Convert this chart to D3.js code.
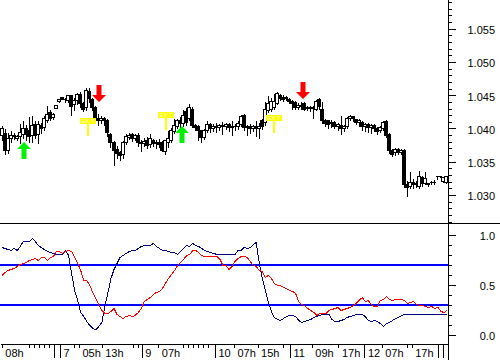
<!DOCTYPE html>
<html>
<head>
<meta charset="utf-8">
<script src="https://cdn.jsdelivr.net/npm/d3@7"></script>
<style>
  body { margin: 0; background: #fff; }
  svg { display: block; }
</style>
</head>
<body>
<svg id="chart" width="500" height="360"></svg>
<script>
// hourly OHLC bars
const opens = [
  1.0390,1.0393,1.0367,1.0385,1.0390,1.0385,1.0388,1.0392,1.0400,1.0398,
  1.0390,1.0406,1.0392,1.0405,1.0402,1.0413,1.0425,1.0417,1.0431,1.0442,
  1.0447,1.0444,1.0443,1.0451,1.0437,1.0443,1.0452,1.0438,1.0432,1.0457,
  1.0444,1.0432,1.0416,1.0412,1.0416,1.0412,1.0392,1.0380,1.0369,1.0364,
  1.0361,1.0380,1.0387,1.0391,1.0386,1.0390,1.0380,1.0378,1.0383,1.0376,
  1.0382,1.0378,1.0380,1.0380,1.0366,1.0380,1.0382,1.0396,1.0404,1.0412,
  1.0408,1.0427,1.0415,1.0430,1.0405,1.0403,1.0397,1.0387,1.0397,1.0406,
  1.0401,1.0404,1.0402,1.0405,1.0403,1.0406,1.0402,1.0404,1.0403,1.0407,
  1.0420,1.0402,1.0404,1.0401,1.0403,1.0400,1.0412,1.0410,1.0428,1.0430,
  1.0433,1.0439,1.0451,1.0447,1.0446,1.0445,1.0442,1.0440,1.0433,1.0436,
  1.0438,1.0431,1.0433,1.0431,1.0430,1.0444,1.0430,1.0412,1.0412,1.0408,
  1.0409,1.0404,1.0405,1.0400,1.0403,1.0415,1.0418,1.0414,1.0410,1.0410,
  1.0403,1.0406,1.0402,1.0405,1.0400,1.0398,1.0401,1.0411,1.0392,1.0368,
  1.0364,1.0369,1.0365,1.0368,1.0316,1.0313,1.0320,1.0316,1.0314,1.0327,
  1.0318,1.0318,1.0319,1.0320,1.0329,1.0328,1.0321,1.0320
];
const highs = [
  1.0405,1.0400,1.0395,1.0398,1.0395,1.0392,1.0408,1.0412,1.0407,1.0418,
  1.0420,1.0412,1.0413,1.0410,1.0420,1.0436,1.0430,1.0424,1.0437,1.0446,
  1.0448,1.0448,1.0452,1.0452,1.0448,1.0455,1.0457,1.0442,1.0462,1.0462,
  1.0448,1.0435,1.0423,1.0420,1.0418,1.0415,1.0395,1.0383,1.0375,1.0368,
  1.0382,1.0393,1.0395,1.0394,1.0393,1.0395,1.0384,1.0387,1.0388,1.0393,
  1.0386,1.0384,1.0385,1.0383,1.0384,1.0397,1.0402,1.0416,1.0416,1.0418,
  1.0430,1.0432,1.0438,1.0434,1.0408,1.0406,1.0399,1.0400,1.0412,1.0409,
  1.0408,1.0410,1.0408,1.0411,1.0409,1.0410,1.0413,1.0408,1.0412,1.0422,
  1.0423,1.0407,1.0408,1.0406,1.0412,1.0410,1.0415,1.0442,1.0450,1.0448,
  1.0453,1.0456,1.0454,1.0452,1.0450,1.0448,1.0445,1.0443,1.0440,1.0441,
  1.0441,1.0436,1.0436,1.0435,1.0444,1.0448,1.0442,1.0416,1.0414,1.0414,
  1.0412,1.0410,1.0420,1.0407,1.0418,1.0421,1.0420,1.0416,1.0416,1.0413,
  1.0410,1.0410,1.0408,1.0408,1.0404,1.0405,1.0413,1.0414,1.0395,1.0370,
  1.0372,1.0372,1.0371,1.0370,1.0322,1.0336,1.0326,1.0322,1.0337,1.0330,
  1.0336,1.0320,1.0323,1.0324,1.0329,1.0328,1.0328,1.0329
];
const lows = [
  1.0382,1.0362,1.0363,1.0380,1.0384,1.0382,1.0378,1.0385,1.0383,1.0380,
  1.0380,1.0385,1.0378,1.0393,1.0398,1.0410,1.0412,1.0414,1.0431,1.0440,
  1.0444,1.0440,1.0440,1.0420,1.0428,1.0437,1.0432,1.0427,1.0428,1.0440,
  1.0428,1.0410,1.0405,1.0408,1.0405,1.0388,1.0372,1.0345,1.0355,1.0352,
  1.0356,1.0377,1.0384,1.0381,1.0382,1.0374,1.0366,1.0373,1.0370,1.0372,
  1.0373,1.0370,1.0372,1.0366,1.0361,1.0372,1.0380,1.0393,1.0400,1.0402,
  1.0404,1.0405,1.0412,1.0402,1.0398,1.0382,1.0380,1.0384,1.0394,1.0395,
  1.0396,1.0394,1.0397,1.0392,1.0399,1.0396,1.0390,1.0397,1.0399,1.0403,
  1.0398,1.0390,1.0393,1.0396,1.0388,1.0385,1.0399,1.0405,1.0425,1.0426,
  1.0430,1.0437,1.0443,1.0442,1.0443,1.0439,1.0430,1.0429,1.0430,1.0430,
  1.0428,1.0428,1.0426,1.0416,1.0428,1.0430,1.0408,1.0403,1.0400,1.0402,
  1.0400,1.0398,1.0392,1.0396,1.0400,1.0412,1.0411,1.0406,1.0404,1.0398,
  1.0396,1.0395,1.0393,1.0396,1.0392,1.0395,1.0397,1.0387,1.0363,1.0359,
  1.0360,1.0362,1.0361,1.0312,1.0299,1.0310,1.0311,1.0312,1.0311,1.0314,
  1.0316,1.0313,1.0317,1.0316,1.0324,1.0327,1.0320,1.0318
];
const closes = [
  1.0400,1.0367,1.0385,1.0390,1.0388,1.0389,1.0395,1.0400,1.0392,1.0389,
  1.0405,1.0390,1.0407,1.0400,1.0415,1.0422,1.0416,1.0421,1.0436,1.0445,
  1.0445,1.0444,1.0450,1.0434,1.0443,1.0452,1.0438,1.0430,1.0458,1.0446,
  1.0433,1.0415,1.0412,1.0416,1.0412,1.0394,1.0380,1.0368,1.0363,1.0360,
  1.0380,1.0388,1.0390,1.0386,1.0390,1.0380,1.0378,1.0381,1.0375,1.0385,
  1.0378,1.0380,1.0376,1.0368,1.0382,1.0386,1.0397,1.0405,1.0412,1.0408,
  1.0420,1.0409,1.0432,1.0405,1.0402,1.0398,1.0387,1.0397,1.0406,1.0400,
  1.0404,1.0402,1.0405,1.0403,1.0406,1.0402,1.0404,1.0403,1.0408,1.0418,
  1.0402,1.0404,1.0401,1.0403,1.0400,1.0404,1.0403,1.0430,1.0439,1.0441,
  1.0442,1.0453,1.0446,1.0445,1.0447,1.0442,1.0438,1.0432,1.0436,1.0434,
  1.0430,1.0433,1.0431,1.0432,1.0442,1.0434,1.0412,1.0408,1.0407,1.0410,
  1.0404,1.0407,1.0400,1.0403,1.0415,1.0418,1.0415,1.0410,1.0413,1.0403,
  1.0406,1.0402,1.0405,1.0401,1.0396,1.0402,1.0410,1.0390,1.0367,1.0362,
  1.0369,1.0365,1.0368,1.0316,1.0312,1.0320,1.0316,1.0318,1.0328,1.0318,
  1.0326,1.0316,1.0320,1.0320,1.0329,1.0328,1.0327,1.0328
];

// stochastic oscillator, one value per bar
const stochK = [
  0.88,0.87,0.855,0.845,0.87,0.85,0.89,0.94,0.93,0.94,
  0.965,0.94,0.9,0.88,0.86,0.84,0.83,0.82,0.81,0.81,
  0.81,0.85,0.80,0.62,0.45,0.35,0.23,0.18,0.14,0.095,
  0.07,0.057,0.085,0.13,0.3,0.43,0.57,0.66,0.72,0.78,
  0.8,0.82,0.84,0.85,0.85,0.87,0.885,0.9,0.895,0.9,
  0.915,0.89,0.87,0.85,0.845,0.835,0.83,0.825,0.81,0.84,
  0.87,0.9,0.89,0.915,0.9,0.885,0.865,0.845,0.833,0.825,
  0.817,0.81,0.81,0.81,0.81,0.81,0.81,0.81,0.845,0.85,
  0.88,0.87,0.875,0.905,0.925,0.72,0.57,0.45,0.33,0.24,
  0.175,0.155,0.15,0.167,0.185,0.195,0.2,0.19,0.15,0.127,
  0.135,0.148,0.157,0.172,0.187,0.2,0.21,0.21,0.21,0.16,
  0.135,0.14,0.15,0.16,0.172,0.185,0.2,0.205,0.21,0.21,
  0.19,0.15,0.135,0.145,0.135,0.117,0.09,0.11,0.13,0.15,
  0.163,0.173,0.195,0.21,0.21,0.21,0.21,0.21,0.21,0.21,
  0.21,0.21,0.21,0.21,0.21,0.21,0.21,0.21
];
const stochD = [
  0.6,0.63,0.65,0.655,0.667,0.69,0.705,0.717,0.73,0.745,
  0.755,0.765,0.75,0.775,0.775,0.75,0.78,0.79,0.84,0.84,
  0.82,0.835,0.85,0.84,0.78,0.715,0.645,0.55,0.55,0.5,
  0.43,0.37,0.31,0.245,0.217,0.22,0.24,0.265,0.21,0.185,
  0.167,0.185,0.2,0.19,0.195,0.225,0.27,0.335,0.36,0.38,
  0.405,0.43,0.433,0.465,0.52,0.567,0.61,0.65,0.7,0.723,
  0.757,0.8,0.805,0.85,0.85,0.825,0.8,0.785,0.79,0.785,
  0.79,0.79,0.76,0.7,0.695,0.66,0.69,0.74,0.765,0.783,
  0.79,0.78,0.74,0.7,0.69,0.65,0.635,0.58,0.6,0.565,
  0.52,0.495,0.5,0.48,0.465,0.445,0.435,0.42,0.34,0.31,
  0.295,0.27,0.25,0.225,0.2,0.215,0.217,0.22,0.25,0.257,
  0.265,0.277,0.243,0.26,0.265,0.275,0.3,0.32,0.345,0.375,
  0.34,0.35,0.31,0.29,0.29,0.345,0.357,0.39,0.36,0.35,
  0.36,0.36,0.36,0.35,0.32,0.33,0.34,0.31,0.3,0.3,
  0.285,0.28,0.29,0.27,0.277,0.24,0.225,0.243
];
const oscLevels = [0.3, 0.7];

// signals: bar position and price of the arrow tip / flag foot
const buySignals = [[7.3, 1.0380], [59.6, 1.0403]];
const sellSignals = [[32.2, 1.0440], [99.6, 1.0444]];
const flagSignals = [[28.6, 1.0389], [54.3, 1.0397], [90.0, 1.0393]];

// axes
const priceTicks = [1.030, 1.035, 1.040, 1.045, 1.050, 1.055];
const oscTicks = [0, 0.5, 1];
const hourTicks = [0.1, 9.2, 10.8, 12.5, 14.1, 15.8, 24.0, 25.6, 33.1, 43.5, 45.2, 51.8,
  60.1, 61.7, 63.4, 65.0, 66.7, 68.3, 76.8, 84.6, 93.1, 102.5, 111.3, 125.6, 133.9, 135.5];
const hourLabels = { 0.1: '08h', 25.6: '05h', 33.1: '13h', 51.8: '07h', 76.8: '07h',
  84.6: '15h', 102.5: '09h', 111.3: '17h', 125.6: '07h', 135.5: '17h' };
const dayTicks = [17.4, 19.3, 46.3, 70.5, 95.3, 119.9, 144.3, 146.0, 147.6];
const dayLabels = { 19.3: '7', 46.3: '9', 70.5: '10', 95.3: '11', 119.9: '12' };

const font = '"Liberation Sans", Arial, sans-serif';
const svg = d3.select('#chart');
const axisX = 448;

const x = d3.scaleLinear().domain([-0.5, closes.length - 0.5]).range([0, axisX]);
const yP = d3.scaleLinear().domain([1.0258, 1.0593]).range([223, 0]);
const yO = d3.scaleLinear().domain([-0.095, 1.105]).range([344, 224]);

const px = (v) => Math.round(v) + 0.5;

// frame lines
svg.append('line')
  .attr('x1', 0).attr('x2', 500).attr('y1', 223.5).attr('y2', 223.5)
  .attr('stroke', '#000');
svg.append('line')
  .attr('x1', axisX + 0.5).attr('x2', axisX + 0.5).attr('y1', 0).attr('y2', 360)
  .attr('stroke', '#000');

// candles
const bars = d3.range(closes.length);
const gC = svg.append('g').attr('shape-rendering', 'crispEdges');

gC.selectAll('.wick').data(bars).join('line')
  .attr('class', 'wick')
  .attr('x1', (i) => px(x(i))).attr('x2', (i) => px(x(i)))
  .attr('y1', (i) => px(yP(highs[i]))).attr('y2', (i) => px(yP(lows[i])))
  .attr('stroke', '#000');

bars.forEach((i) => {
  const cx = Math.round(x(i));
  const top = Math.round(yP(Math.max(opens[i], closes[i])));
  const bot = Math.round(yP(Math.min(opens[i], closes[i])));
  if (bot - top < 1) {
    gC.append('line')
      .attr('x1', cx - 1.5).attr('x2', cx + 1.5)
      .attr('y1', top + 0.5).attr('y2', top + 0.5)
      .attr('stroke', '#000');
  } else {
    gC.append('rect')
      .attr('x', cx - 1.5).attr('y', top + 0.5)
      .attr('width', 3).attr('height', bot - top)
      .attr('fill', closes[i] >= opens[i] ? '#fff' : '#000')
      .attr('stroke', '#000');
  }
});

// arrows
const upPath = 'M0,0L7,7L2.5,7L2.5,17L-2.5,17L-2.5,7L-7,7Z';
const downPath = 'M0,0L7,-7L2.5,-7L2.5,-17L-2.5,-17L-2.5,-7L-7,-7Z';

svg.append('g').selectAll('path').data(buySignals).join('path')
  .attr('transform', (d) => `translate(${Math.round(x(d[0]))},${Math.round(yP(d[1]))})`)
  .attr('d', upPath)
  .attr('fill', '#00f000');

svg.append('g').selectAll('path').data(sellSignals).join('path')
  .attr('transform', (d) => `translate(${Math.round(x(d[0]))},${Math.round(yP(d[1]))})`)
  .attr('d', downPath)
  .attr('fill', '#ff0000');

// yellow flags
const flags = svg.append('g').selectAll('g').data(flagSignals).join('g')
  .attr('transform', (d) => `translate(${Math.round(x(d[0]))},${Math.round(yP(d[1]))})`);
flags.append('rect')
  .attr('x', -8).attr('y', -18).attr('width', 16).attr('height', 6)
  .attr('fill', '#ffff00');
flags.append('rect')
  .attr('x', -1).attr('y', -12).attr('width', 2).attr('height', 12)
  .attr('fill', '#ffff00');
flags.append('text')
  .attr('x', 0).attr('y', -12.6)
  .attr('text-anchor', 'middle')
  .attr('font-family', font).attr('font-size', 6)
  .attr('fill', '#fffbd0')
  .text('EX T');

// oscillator panel
const gO = svg.append('g');
gO.selectAll('.level').data(oscLevels).join('line')
  .attr('class', 'level')
  .attr('x1', 0).attr('x2', axisX)
  .attr('y1', (d) => Math.round(yO(d))).attr('y2', (d) => Math.round(yO(d)))
  .attr('stroke', '#0000ff').attr('stroke-width', 2);

const oscLine = (vals) => d3.line()
  .x((d, i) => x(i) + 0.5)
  .y((d) => Math.round(yO(d)) + 0.5)(vals);

gO.append('path')
  .attr('d', oscLine(stochK))
  .attr('fill', 'none').attr('stroke', '#000080')
  .attr('shape-rendering', 'crispEdges');
gO.append('path')
  .attr('d', oscLine(stochD))
  .attr('fill', 'none').attr('stroke', '#ff0000')
  .attr('shape-rendering', 'crispEdges');

// right axes
const styleAxis = (g) => {
  g.attr('font-family', font).attr('font-size', 11);
  g.select('.domain').remove();
  g.selectAll('line').attr('shape-rendering', 'crispEdges');
};
const rightLabels = (g) => g.selectAll('text')
  .attr('x', 47).attr('dy', '0.45em').attr('text-anchor', 'end').attr('fill', '#000');

svg.append('g').attr('transform', `translate(${axisX},0)`)
  .call(d3.axisRight(yP).tickValues(d3.range(1026, 1060).map((k) => k / 1000))
    .tickSize(4).tickFormat(''))
  .call(styleAxis);
svg.append('g').attr('transform', `translate(${axisX},0)`)
  .call(d3.axisRight(yP).tickValues(priceTicks).tickSize(8).tickFormat(d3.format('.3f')))
  .call(styleAxis)
  .call(rightLabels);

svg.append('g').attr('transform', `translate(${axisX},0)`)
  .call(d3.axisRight(yO).tickValues(d3.range(0, 11).map((k) => k / 10))
    .tickSize(4).tickFormat(''))
  .call(styleAxis);
svg.append('g').attr('transform', `translate(${axisX},0)`)
  .call(d3.axisRight(yO).tickValues(oscTicks).tickSize(8).tickFormat(d3.format('.1f')))
  .call(styleAxis)
  .call(rightLabels);

// time axis
const bottomLabels = (g) => g.selectAll('text')
  .attr('x', 3).attr('y', 5).attr('dy', '0.71em')
  .attr('text-anchor', 'start').attr('fill', '#000');

svg.append('g').attr('transform', 'translate(0,344)')
  .call(d3.axisBottom(x).tickValues(hourTicks).tickSize(4).tickSizeOuter(0)
    .tickFormat((d) => hourLabels[d] || ''))
  .call((g) => {
    g.attr('font-family', font).attr('font-size', 11);
    g.selectAll('line').attr('shape-rendering', 'crispEdges');
    g.select('.domain').attr('shape-rendering', 'crispEdges');
  })
  .call(bottomLabels);

svg.append('g').attr('transform', 'translate(0,344)')
  .call(d3.axisBottom(x).tickValues(dayTicks).tickSize(14)
    .tickFormat((d) => dayLabels[d] || ''))
  .call(styleAxis)
  .call(bottomLabels);
</script>
</body>
</html>
